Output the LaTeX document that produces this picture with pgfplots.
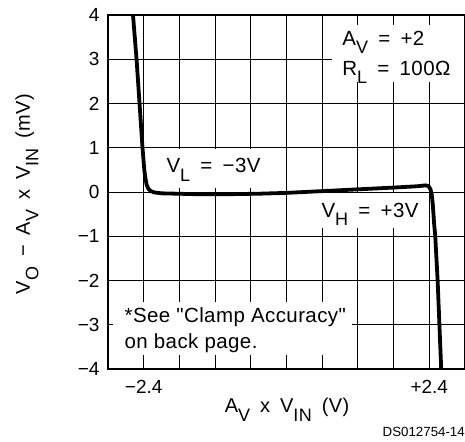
\documentclass[border=0pt]{standalone}
\usepackage{fontspec}
\setmainfont{Liberation Sans}
\newfontfamily\annot[LetterSpace=2]{Liberation Sans}
\usepackage{pgfplots}
\pgfplotsset{compat=1.18}
\tikzset{gridln/.style={black, line width=1pt}}
\newcommand{\sub}[1]{\raisebox{-0.42em}{\fontsize{18}{18}\selectfont #1}}
\pgfplotstableread{
x y
-2.60 4.3
-2.58 4.0
-2.52 3.0
-2.47 2.0
-2.42 1.0
-2.39 0.5
-2.37 0.3
-2.35 0.16
-2.32 0.07
-2.28 0.02
-2.22 -0.01
-2.10 -0.03
-1.80 -0.04
-1.50 -0.05
-1.00 -0.05
-0.50 -0.04
0.00 -0.02
0.60 0.02
1.20 0.06
1.80 0.10
2.20 0.13
2.34 0.15
2.39 0.13
2.42 0.06
2.44 -0.05
2.46 -0.3
2.48 -0.7
2.50 -1.0
2.54 -2.0
2.57 -3.0
2.60 -4.0
2.61 -4.3
}\curvedata
\begin{document}
\begin{tikzpicture}
\path[use as bounding box] (0,0) rectangle (465pt,441pt);
\begin{axis}[
  at={(108pt,72pt)}, anchor=south west, scale only axis,
  width=357pt, height=354pt,
  xmin=-3, xmax=3, ymin=-4, ymax=4,
  xtick={-3,-2.4,-1.8,-1.2,-0.6,0,0.6,1.2,1.8,2.4,3},
  xticklabels={,−2.4,,,,,,,,+2.4,},
  ytick={-4,-3,-2,-1,0,1,2,3,4},
  yticklabels={−4,−3,−2,−1,0,1,2,3,4},
  major tick length=0pt,
  axis line style={black, line width=1.5pt},
  tick label style={font=\fontsize{19}{20}\selectfont, text=black},
  xticklabel style={yshift=-8pt},
  yticklabel style={xshift=-5pt},
]
% vertical grid segments (interrupted where the notes sit)
\draw[gridln] (axis cs:-2.4,-4) -- (axis cs:-2.4,-3.68);
\draw[gridln] (axis cs:-2.4,-2.49) -- (axis cs:-2.4,4);
\draw[gridln] (axis cs:-1.8,-4) -- (axis cs:-1.8,-3.68);
\draw[gridln] (axis cs:-1.8,-2.49) -- (axis cs:-1.8,0.09);
\draw[gridln] (axis cs:-1.8,0.97) -- (axis cs:-1.8,4);
\draw[gridln] (axis cs:-1.2,-4) -- (axis cs:-1.2,-3.68);
\draw[gridln] (axis cs:-1.2,-2.49) -- (axis cs:-1.2,0.09);
\draw[gridln] (axis cs:-1.2,0.97) -- (axis cs:-1.2,4);
\draw[gridln] (axis cs:-0.6,-4) -- (axis cs:-0.6,-3.68);
\draw[gridln] (axis cs:-0.6,-2.49) -- (axis cs:-0.6,0.09);
\draw[gridln] (axis cs:-0.6,0.97) -- (axis cs:-0.6,4);
\draw[gridln] (axis cs:0,-4) -- (axis cs:0,-3.68);
\draw[gridln] (axis cs:0,-2.49) -- (axis cs:0,4);
\draw[gridln] (axis cs:0.6,-4) -- (axis cs:0.6,-3.68);
\draw[gridln] (axis cs:0.6,-2.49) -- (axis cs:0.6,-0.82);
\draw[gridln] (axis cs:0.6,-0.03) -- (axis cs:0.6,4);
\draw[gridln] (axis cs:1.2,-4) -- (axis cs:1.2,-0.82);
\draw[gridln] (axis cs:1.2,-0.03) -- (axis cs:1.2,2.49);
\draw[gridln] (axis cs:1.2,3.77) -- (axis cs:1.2,4);
\draw[gridln] (axis cs:1.8,-4) -- (axis cs:1.8,-0.82);
\draw[gridln] (axis cs:1.8,-0.03) -- (axis cs:1.8,2.49);
\draw[gridln] (axis cs:1.8,3.77) -- (axis cs:1.8,4);
\draw[gridln] (axis cs:2.4,-4) -- (axis cs:2.4,2.49);
\draw[gridln] (axis cs:2.4,3.77) -- (axis cs:2.4,4);
% horizontal grid segments
\draw[gridln] (axis cs:-3,3) -- (axis cs:0.76,3);
\draw[gridln] (axis cs:-3,2) -- (axis cs:3,2);
\draw[gridln] (axis cs:-3,1) -- (axis cs:3,1);
\draw[gridln] (axis cs:-3,0) -- (axis cs:3,0);
\draw[gridln] (axis cs:-3,-1) -- (axis cs:3,-1);
\draw[gridln] (axis cs:-3,-2) -- (axis cs:3,-2);
\draw[gridln] (axis cs:-3,-3) -- (axis cs:-2.92,-3);
\draw[gridln] (axis cs:1.10,-3) -- (axis cs:3,-3);
\addplot[black, line width=3.8pt, line join=round, no markers] table[x=x,y=y] {\curvedata};
\node[anchor=base west, font=\annot\fontsize{20.5}{22}\selectfont] at (axis cs:0.88,3.32) {A\sub{V}\enspace=\enspace+2};
\node[anchor=base west, font=\annot\fontsize{20.5}{22}\selectfont] at (axis cs:0.88,2.64) {R\sub{L}\enspace=\enspace100Ω};
\node[anchor=base west, font=\annot\fontsize{20.5}{22}\selectfont] at (axis cs:-2.076,0.43) {V\sub{L}\enspace=\enspace−3V};
\node[anchor=base west, font=\annot\fontsize{20.5}{22}\selectfont] at (axis cs:0.53,-0.565) {V\sub{H}\enspace=\enspace+3V};
\node[anchor=base west, font=\annot\fontsize{20.5}{22}\selectfont] at (axis cs:-2.78,-2.96) {*See "Clamp Accuracy"};
\node[anchor=base west, font=\annot\fontsize{20.5}{22}\selectfont] at (axis cs:-2.78,-3.53) {on back page.};
\end{axis}
\node[rotate=90, anchor=center, font=\annot\fontsize{20}{22}\selectfont] at (27pt,247pt) {V\sub{O}\enspace−\enspace A\sub{V}\enspace x\enspace V\sub{IN}\enspace(mV)};
\node[anchor=base, font=\annot\fontsize{20}{22}\selectfont] at (287pt,28pt) {A\sub{V}\enspace x\enspace V\sub{IN}\enspace(V)};
\node[anchor=base east, inner sep=0pt, font=\fontsize{13.3}{14}\selectfont] at (465pt,5pt) {DS012754-14};
\end{tikzpicture}
\end{document}
